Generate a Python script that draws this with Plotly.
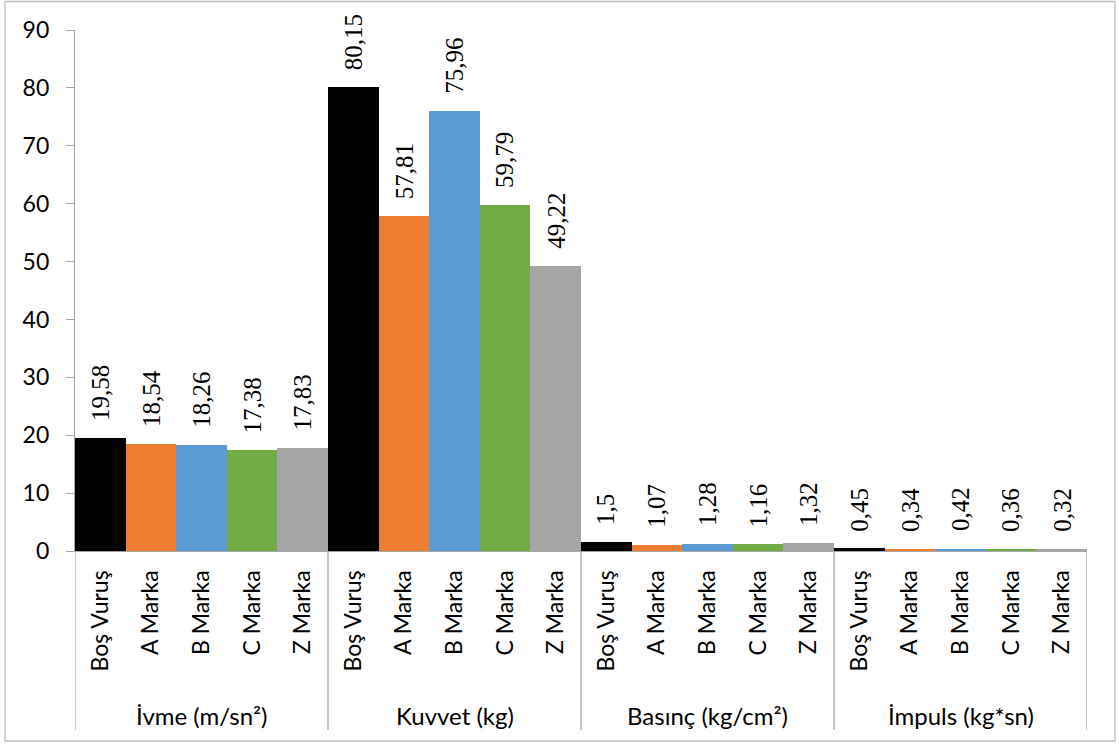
import plotly.graph_objects as go

groups = ["İvme (m/sn²)", "Kuvvet (kg)", "Basınç (kg/cm²)", "İmpuls (kg*sn)"]
categories = ["Boş Vuruş", "A Marka", "B Marka", "C Marka", "Z Marka"]
colors = ["#000000", "#ED7D31", "#5B9BD5", "#70AD47", "#A5A5A5"]

ivme = [19.58, 18.54, 18.26, 17.38, 17.83]
kuvvet = [80.15, 57.81, 75.96, 59.79, 49.22]
basinc = [1.5, 1.07, 1.28, 1.16, 1.32]
impuls = [0.45, 0.34, 0.42, 0.36, 0.32]
series = [ivme, kuvvet, basinc, impuls]

y_ticks = [0, 10, 20, 30, 40, 50, 60, 70, 80, 90]

n = len(categories)
xs, ys, cols, texts, tick_text = [], [], [], [], []
for gi, vals in enumerate(series):
    for ci, v in enumerate(vals):
        xs.append(gi * n + ci)
        ys.append(v)
        cols.append(colors[ci])
        texts.append(str(v).replace(".", ","))
        tick_text.append(categories[ci])

fig = go.Figure()
fig.add_trace(go.Bar(
    x=xs, y=ys, width=1.0,
    marker=dict(color=cols, line=dict(width=0)),
    hoverinfo="skip",
))

plot_top, plot_bottom = 30, 551
ph = plot_bottom - plot_top


def py(p):
    return (plot_bottom - p) / ph


shapes = []
for b in range(len(groups) + 1):
    shapes.append(dict(type="line", xref="x", yref="paper",
                       x0=b * n - 0.5, x1=b * n - 0.5, y0=0, y1=py(730),
                       line=dict(color="#A6A6A6", width=1.3)))
shapes.append(dict(type="rect", xref="paper", yref="paper",
                   x0=-70 / 1012, x1=(1115 - 75) / 1012,
                   y0=py(741), y1=py(1.5),
                   line=dict(color="#BFBFBF", width=1.3)))

annotations = []
for x, y, t in zip(xs, ys, texts):
    annotations.append(dict(x=x, y=y, xref="x", yref="y", text=t, showarrow=False,
                            textangle=-90, xanchor="center", yanchor="bottom",
                            yshift=15,
                            font=dict(family="Liberation Serif", size=25, color="#000000")))
for gi, g in enumerate(groups):
    annotations.append(dict(x=gi * n + (n - 1) / 2, y=py(715),
                            xref="x", yref="paper", text=g, showarrow=False,
                            xanchor="center", yanchor="middle",
                            font=dict(family="Lato", size=24, color="#000000")))

fig.update_layout(
    width=1119, height=744,
    margin=dict(l=75, r=32, t=30, b=193),
    paper_bgcolor="white", plot_bgcolor="white",
    showlegend=False, bargap=0,
    shapes=shapes, annotations=annotations,
    xaxis=dict(range=[-0.5, len(xs) - 0.5], tickmode="array",
               tickvals=xs, ticktext=tick_text, tickangle=-90,
               tickfont=dict(family="Lato", size=23, color="#000000"),
               showline=True, linecolor="#A6A6A6", linewidth=1.3,
               ticks="", showgrid=False, zeroline=False, ticklabelstandoff=9),
    yaxis=dict(range=[0, 90], tickmode="array", tickvals=y_ticks,
               tickfont=dict(family="Lato", size=23, color="#000000"),
               showline=True, linecolor="#A6A6A6", linewidth=1.3,
               ticks="outside", ticklen=8, tickcolor="#A6A6A6", tickwidth=1.3,
               showgrid=False, zeroline=False, ticklabelstandoff=12),
)

fig.write_html("out.html")
